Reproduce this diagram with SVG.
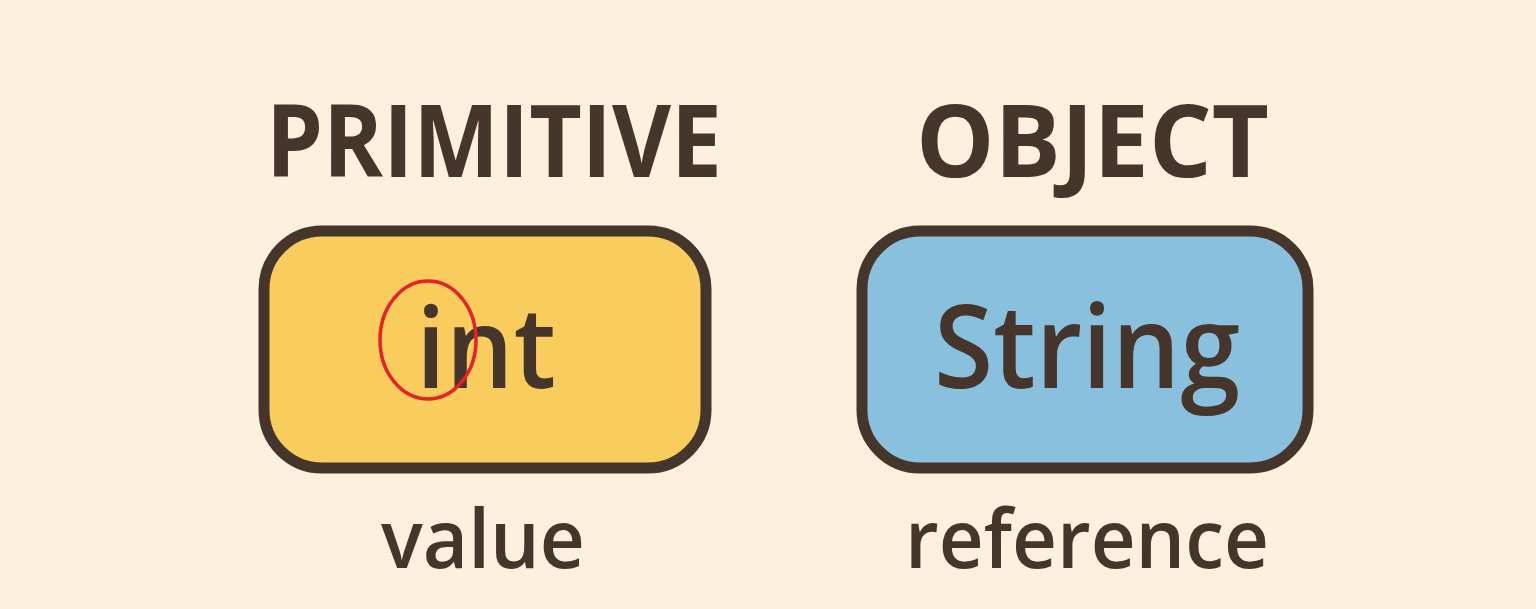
<svg xmlns="http://www.w3.org/2000/svg" width="1536" height="609" viewBox="0 0 1536 609">
<style>
.bg{fill:#FCF1DE}
.box{stroke:#45352A;stroke-width:11}
.t{fill:#45352A;font-family:"Open Sans","Noto Sans","DejaVu Sans",sans-serif;font-weight:700}
.bt{fill:#45352A;font-family:"Open Sans","Noto Sans","DejaVu Sans",sans-serif;font-weight:600}
.lbl{fill:#45352A;font-family:"Open Sans","Noto Sans","DejaVu Sans",sans-serif;font-weight:600}
</style>
<rect class="bg" x="0" y="0" width="1536" height="609"/>
<g id="primitive">
<text class="t" x="266" y="177" font-size="100" textLength="456" lengthAdjust="spacingAndGlyphs">PRIMITIVE</text>
<rect class="box" x="264" y="231" width="442" height="237" rx="58" ry="58" fill="#F8CD5E"/>
<text class="bt" x="416" y="388" font-size="112" textLength="140" lengthAdjust="spacingAndGlyphs">int</text>
<ellipse cx="428" cy="340" rx="48" ry="59" fill="none" stroke="#E8202A" stroke-width="3.5"/>
<text class="lbl" x="381" y="568" font-size="82" textLength="204" lengthAdjust="spacingAndGlyphs">value</text>
</g>
<g id="object">
<text class="t" x="916" y="177" font-size="100" textLength="353" lengthAdjust="spacingAndGlyphs">OBJECT</text>
<rect class="box" x="862" y="231" width="446" height="237" rx="58" ry="58" fill="#89C0DD"/>
<text class="bt" x="934" y="388" font-size="116" textLength="306" lengthAdjust="spacingAndGlyphs">String</text>
<text class="lbl" x="905" y="568" font-size="82" textLength="364" lengthAdjust="spacingAndGlyphs">reference</text>
</g>
<g id="connectors"></g>
</svg>
